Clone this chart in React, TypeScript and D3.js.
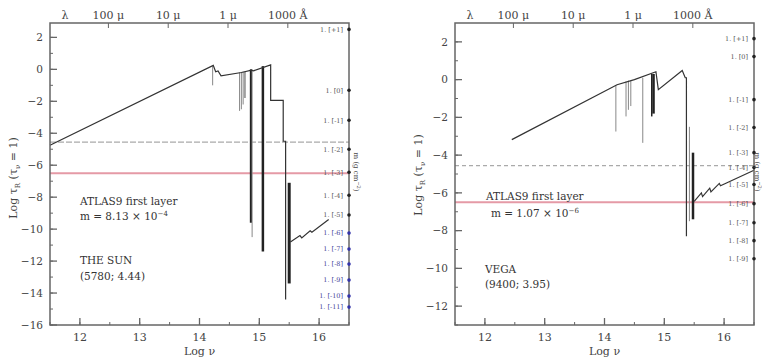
import React from 'react';
import * as d3 from 'd3';

// log nu range shared by both panels
const xDomain: [number, number] = [11.5, 16.5];
const xTicks = [12, 13, 14, 15, 16];

// top axis: wavelength in cm and its label
const lambdaCm = [1e-2, 1e-3, 1e-4, 1e-5];
const lambdaLabels = ['100 μ', '10 μ', '1 μ', '1000 Å'];

// m (g cm^-2) markers on the right edge
const mExp = ['+1', '0', '-1', '-2', '-3', '-4', '-5', '-6', '-7', '-8', '-9', '-10', '-11'];
const sunMY = [2.5, -1.31, -3.19, -5.0, -6.44, -7.88, -9.12, -10.25, -11.25, -12.19, -13.19, -14.19, -14.88];
const vegaMY = [2.17, 1.22, -1.06, -2.54, -3.87, -4.66, -5.56, -6.57, -7.58, -8.53, -9.49];

// continuum curves [log nu, log tau]
const sunIR: [number, number][] = [
  [11.5, -4.75], [14.23, 0.25], [14.27, -0.15], [14.31, -0.1], [14.36, -0.4], [14.7, -0.2],
  [14.87, -0.05], [14.9, -0.1], [15.19, 0.28], [15.19, -1.94], [15.4, -1.94], [15.4, -4.5],
  [15.44, -4.5], [15.44, -14.4],
];
const sunUV: [number, number][] = [
  [15.52, -10.8], [15.68, -10.4], [15.71, -10.55], [15.85, -10.1], [15.88, -10.2], [16.16, -9.4],
];
const vegaIR: [number, number][] = [
  [12.45, -3.18], [14.21, -0.27], [14.5, 0.0], [14.86, 0.42], [14.9, -0.53], [15.3, 0.48],
  [15.35, 0.1], [15.37, 0.1], [15.37, -8.3],
];
const vegaUV: [number, number][] = [
  [15.5, -6.45], [15.62, -6.0], [15.64, -6.2], [15.76, -5.75], [15.78, -5.95], [15.92, -5.5],
  [15.94, -5.62], [16.5, -4.8],
];

// absorption dips: [log nu, top, bottom, width, dark?]
const sunDips: [number, number, number, number, number][] = [
  [14.22, 0.2, -1.0, 1, 0], [14.67, -0.2, -2.6, 1, 0], [14.7, -0.2, -2.5, 1, 0],
  [14.73, -0.15, -2.2, 1, 0], [14.76, -0.15, -1.8, 1.5, 0], [14.86, 0.0, -9.6, 2.2, 1],
  [14.88, 0.0, -10.5, 1, 0], [15.06, 0.2, -11.4, 2.5, 1], [15.5, -7.1, -13.4, 3, 1],
];
const vegaDips: [number, number, number, number, number][] = [
  [14.19, -0.3, -2.75, 1, 0], [14.36, -0.1, -1.95, 1, 0], [14.4, -0.05, -1.6, 1, 0],
  [14.44, -0.05, -1.4, 1, 0], [14.64, 0.1, -3.35, 1, 0], [14.79, 0.3, -1.95, 1.5, 1],
  [14.82, 0.3, -1.8, 2.5, 1], [15.42, -2.5, -7.5, 1, 0], [15.48, -3.87, -7.4, 2.5, 1],
];

const dashedY = -4.56;
const firstLayerY = -6.5;

const C_CGS = 2.998e10;
const font = "'DejaVu Serif', serif";

interface PanelProps {
  left: number;
  right: number;
  yDomain: [number, number];
  yTicks: number[];
  ir: [number, number][];
  uv: [number, number][];
  dips: [number, number, number, number, number][];
  mY: number[];
  dash: string;
  lines: { x: number; y: number; text: React.ReactNode }[];
  yLabelY: number;
  mTitleX: number;
}

const top = 23;
const bottom = 325;

const Panel = ({ left, right, yDomain, yTicks, ir, uv, dips, mY, dash, lines, yLabelY, mTitleX }: PanelProps) => {
  const x = d3.scaleLinear().domain(xDomain).range([left, right]);
  const y = d3.scaleLinear().domain(yDomain).range([bottom, top]);
  const line = d3.line<[number, number]>().x((d) => x(d[0])).y((d) => y(d[1]));
  const minorX = d3.range(xDomain[0], xDomain[1] + 0.01, 0.5);
  const minorY = d3.range(Math.ceil(yDomain[0]), yDomain[1], 1);
  const stroke = '#666';
  return (
    <g fontFamily={font}>
      {/* reference lines */}
      <line x1={left} x2={right} y1={y(dashedY)} y2={y(dashedY)} stroke="#aaa" strokeWidth={1.2} strokeDasharray={dash} />
      <line x1={left} x2={right} y1={y(firstLayerY)} y2={y(firstLayerY)} stroke="#e59aa6" strokeWidth={2} />
      {/* dips */}
      {dips.map((d, i) => (
        <line key={i} x1={x(d[0])} x2={x(d[0])} y1={y(d[1])} y2={y(d[2])}
          stroke={d[4] ? '#222' : '#888'} strokeWidth={d[3]} />
      ))}
      <path d={line(ir) ?? ''} fill="none" stroke="#333" strokeWidth={1.2} />
      <path d={line(uv) ?? ''} fill="none" stroke="#333" strokeWidth={1.2} />
      {/* frame */}
      <rect x={left} y={top} width={right - left} height={bottom - top} fill="none" stroke={stroke} strokeWidth={1.5} />
      {/* bottom axis */}
      {minorX.map((v) => (
        <line key={'mx' + v} x1={x(v)} x2={x(v)} y1={bottom} y2={bottom - 3} stroke={stroke} />
      ))}
      {xTicks.map((v) => (
        <g key={'x' + v}>
          <line x1={x(v)} x2={x(v)} y1={bottom} y2={bottom - 7} stroke={stroke} strokeWidth={1.3} />
          <text x={x(v)} y={341} textAnchor="middle" fontSize={11} fill="#444">{v}</text>
        </g>
      ))}
      <text x={(left + right) / 2} y={355} textAnchor="middle" fontSize={11} fill="#444">Log ν</text>
      {/* top axis */}
      <text x={x(11.75)} y={19} textAnchor="middle" fontSize={11} fill="#444">λ</text>
      {lambdaCm.map((l, i) => {
        const px = x(Math.log10(C_CGS / l));
        return (
          <g key={'l' + i}>
            <line x1={px} x2={px} y1={top} y2={top + 5} stroke={stroke} />
            <text x={px} y={19} textAnchor="middle" fontSize={11} fill="#444">{lambdaLabels[i]}</text>
          </g>
        );
      })}
      {/* left axis */}
      {minorY.map((v) => (
        <line key={'my' + v} x1={left} x2={left + 3} y1={y(v)} y2={y(v)} stroke={stroke} />
      ))}
      {yTicks.map((v) => (
        <g key={'y' + v}>
          <line x1={left} x2={left + 7} y1={y(v)} y2={y(v)} stroke={stroke} strokeWidth={1.3} />
          <text x={left - 7} y={y(v)} dy="0.35em" textAnchor="end" fontSize={10.5} fill="#444">
            {v < 0 ? '−' + Math.abs(v) : v}
          </text>
        </g>
      ))}
      <text transform={`translate(${left - 33},${yLabelY}) rotate(-90)`} textAnchor="middle" fontSize={11} fill="#444">
        Log τ<tspan fontSize={7} dy={3}>R</tspan>
        <tspan dy={-3}> (τ</tspan>
        <tspan fontSize={7} dy={3}>ν</tspan>
        <tspan dy={-3}> = 1)</tspan>
      </text>
      {/* m markers */}
      {mY.map((v, i) => (
        <g key={'m' + i}>
          <circle cx={right} cy={y(v)} r={1.8} fill={i >= 7 && mY.length > 11 ? '#33a' : '#222'} />
          <text x={right - 6} y={y(v)} dy="0.35em" textAnchor="end" fontSize={6.5}
            fill={i >= 7 && mY.length > 11 ? '#449' : '#555'}>
            {`1. [${mExp[i]}]`}
          </text>
        </g>
      ))}
      <text transform={`translate(${mTitleX},${172}) rotate(90)`} textAnchor="middle" fontSize={7} fill="#444">
        m (g cm<tspan fontSize={5} dy={-3}>−2</tspan><tspan dy={3}>)</tspan>
      </text>
      {/* annotations */}
      {lines.map((l, i) => (
        <text key={'t' + i} x={x(l.x)} y={y(l.y)} fontSize={10.5} fill="#333">{l.text}</text>
      ))}
    </g>
  );
};

const App = () => (
  <svg width={762} height={358} style={{ position: 'absolute', left: 0, top: 0, background: '#fff' }}>
    <Panel
      left={50}
      right={349}
      yDomain={[-16, 2.9]}
      yTicks={[-16, -14, -12, -10, -8, -6, -4, -2, 0, 2]}
      ir={sunIR}
      uv={sunUV}
      dips={sunDips}
      mY={sunMY}
      dash="6,2"
      yLabelY={178}
      mTitleX={354}
      lines={[
        { x: 12.0, y: -8.5, text: 'ATLAS9 first layer' },
        { x: 12.0, y: -9.4, text: <>m = 8.13  × 10<tspan fontSize={7} dy={-4}>−4</tspan></> },
        { x: 12.0, y: -12.2, text: 'THE SUN' },
        { x: 12.0, y: -13.2, text: '(5780; 4.44)' },
      ]}
    />
    <Panel
      left={455}
      right={754}
      yDomain={[-13, 3]}
      yTicks={[-12, -10, -8, -6, -4, -2, 0, 2]}
      ir={vegaIR}
      uv={vegaUV}
      dips={vegaDips}
      mY={vegaMY}
      dash="4,3"
      yLabelY={175}
      mTitleX={755}
      lines={[
        { x: 12.02, y: -6.4, text: 'ATLAS9 first layer' },
        { x: 12.1, y: -7.26, text: <>m = 1.07 × 10<tspan fontSize={7} dy={-4}>−6</tspan></> },
        { x: 12.0, y: -10.23, text: 'VEGA' },
        { x: 12.0, y: -11.05, text: '(9400; 3.95)' },
      ]}
    />
  </svg>
);

export default App;
